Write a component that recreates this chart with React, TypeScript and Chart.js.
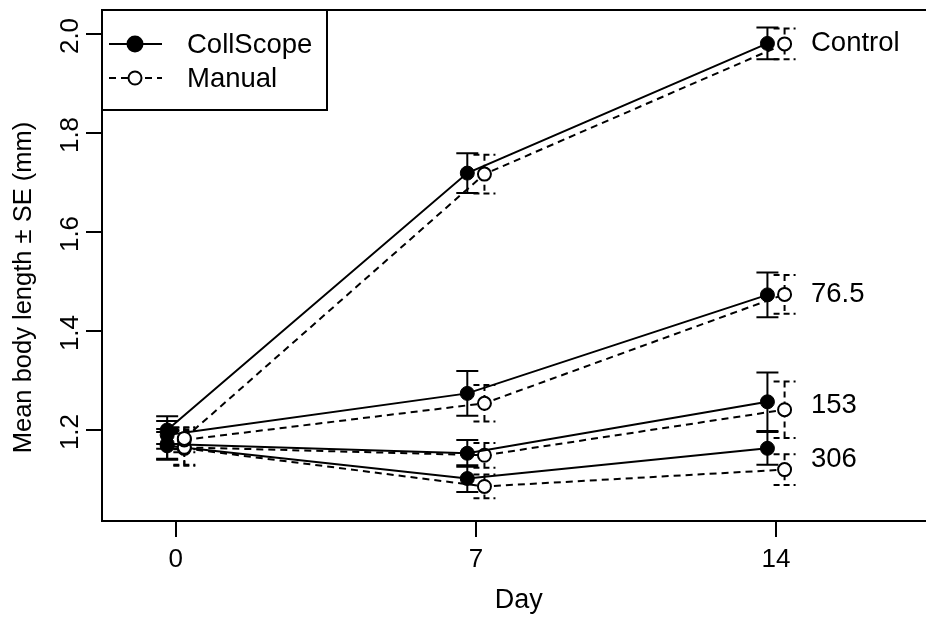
import React, { useEffect, useRef } from 'react';
import { Chart, registerables } from 'chart.js';

Chart.register(...registerables);

// ---- data ----
const days = [0, 7, 14];
const groupNames = ['Control', '76.5', '153', '306'];

// rows: Control, 76.5, 153, 306 ; columns: day 0, 7, 14
const collScopeMean = [
  [1.200, 1.719, 1.981],
  [1.190, 1.274, 1.473],
  [1.172, 1.153, 1.257],
  [1.168, 1.102, 1.163],
];
const collScopeSE = [
  [0.028, 0.040, 0.032],
  [0.028, 0.045, 0.045],
  [0.030, 0.027, 0.059],
  [0.028, 0.027, 0.033],
];
const manualMean = [
  [1.183, 1.717, 1.980],
  [1.180, 1.254, 1.474],
  [1.165, 1.149, 1.241],
  [1.163, 1.086, 1.120],
];
const manualSE = [
  [0.022, 0.039, 0.031],
  [0.025, 0.037, 0.039],
  [0.035, 0.025, 0.057],
  [0.035, 0.024, 0.031],
];
const xTicks = [0, 7, 14];
const yTicks = [1.2, 1.4, 1.6, 1.8, 2.0];
const legendLabels = ['CollScope', 'Manual'];
const xTitle = 'Day';
const yTitle = 'Mean body length \u00b1 SE (mm)';

// ---- style ----
const FONT = '"Liberation Sans", Arial, Helvetica, sans-serif';
const FS_TICK = 26;
const FS_TEXT = 27.5;
const FS_XTITLE = 27;
const FS_YTITLE = 25.5;
const DASH = [7, 5];
const METHOD_OFFSET = 0.2;
const CAP = 11;

export default function App() {
  const ref = useRef<HTMLCanvasElement>(null);

  useEffect(() => {
    const canvas = ref.current!;
    const datasets: any[] = [];
    groupNames.forEach((g, gi) => {
      datasets.push({
        label: 'CollScope ' + g,
        method: 'CollScope',
        se: collScopeSE[gi],
        data: days.map((d, i) => ({ x: d - METHOD_OFFSET, y: collScopeMean[gi][i] })),
        showLine: true,
        borderColor: '#000',
        borderWidth: 2,
        pointRadius: 7,
        pointBackgroundColor: '#000',
        pointBorderColor: '#000',
        pointBorderWidth: 1,
      });
      datasets.push({
        label: 'Manual ' + g,
        method: 'Manual',
        se: manualSE[gi],
        data: days.map((d, i) => ({ x: d + METHOD_OFFSET, y: manualMean[gi][i] })),
        showLine: true,
        borderColor: '#000',
        borderWidth: 2,
        borderDash: DASH,
        pointRadius: 6.5,
        pointBackgroundColor: '#fff',
        pointBorderColor: '#000',
        pointBorderWidth: 2,
      });
    });

    const errorBars = {
      id: 'errorBars',
      beforeDatasetsDraw(chart: any) {
        const { ctx, scales } = chart;
        const xs = scales.x, ys = scales.y;
        chart.data.datasets.forEach((ds: any) => {
          ctx.save();
          ctx.strokeStyle = '#000';
          ctx.lineWidth = 2;
          ctx.setLineDash(ds.method === 'Manual' ? [6, 4] : []);
          ds.data.forEach((p: any, j: number) => {
            const px = xs.getPixelForValue(p.x);
            const top = ys.getPixelForValue(p.y + ds.se[j]);
            const bot = ys.getPixelForValue(p.y - ds.se[j]);
            ctx.beginPath();
            ctx.moveTo(px, top); ctx.lineTo(px, bot);
            ctx.moveTo(px - CAP, top); ctx.lineTo(px + CAP, top);
            ctx.moveTo(px - CAP, bot); ctx.lineTo(px + CAP, bot);
            ctx.stroke();
          });
          ctx.restore();
        });
      },
    };

    const decorations = {
      id: 'decorations',
      afterDraw(chart: any) {
        const { ctx, chartArea: a, scales } = chart;
        const xs = scales.x, ys = scales.y;
        ctx.save();
        // frame
        ctx.strokeStyle = '#000';
        ctx.lineWidth = 2;
        ctx.setLineDash([]);
        ctx.strokeRect(a.left, a.top, a.right - a.left, a.bottom - a.top);

        ctx.fillStyle = '#000';
        // y tick labels (rotated, R style)
        ctx.font = `${FS_TICK}px ${FONT}`;
        yTicks.forEach((v) => {
          const py = ys.getPixelForValue(v);
          ctx.save();
          ctx.translate(a.left - 24, py + 2);
          ctx.rotate(-Math.PI / 2);
          ctx.textAlign = 'center';
          ctx.textBaseline = 'alphabetic';
          ctx.fillText(v.toFixed(1), 0, 0);
          ctx.restore();
        });
        // y title
        ctx.font = `${FS_YTITLE}px ${FONT}`;
        ctx.save();
        ctx.translate(a.left - 71, (a.top + a.bottom) / 2 + 22);
        ctx.rotate(-Math.PI / 2);
        ctx.textAlign = 'center';
        ctx.textBaseline = 'alphabetic';
        ctx.fillText(yTitle, 0, 0);
        ctx.restore();

        // group labels at right
        ctx.font = `${FS_TEXT}px ${FONT}`;
        ctx.textAlign = 'left';
        ctx.textBaseline = 'middle';
        const lastX = xs.getPixelForValue(days[days.length - 1]);
        groupNames.forEach((g, gi) => {
          const last = days.length - 1;
          const v = (collScopeMean[gi][last] + manualMean[gi][last]) / 2;
          ctx.fillText(g, lastX + 35, ys.getPixelForValue(v));
        });

        // legend box
        const lx = a.left, ly = a.top, lw = 225, lh = 100;
        ctx.fillStyle = '#fff';
        ctx.fillRect(lx, ly, lw, lh);
        ctx.strokeStyle = '#000';
        ctx.lineWidth = 2;
        ctx.strokeRect(lx, ly, lw, lh);
        const rows = [ly + 34, ly + 68];
        legendLabels.forEach((lab, i) => {
          const ry = rows[i];
          ctx.beginPath();
          ctx.setLineDash(i === 1 ? DASH : []);
          ctx.moveTo(lx + 7, ry);
          ctx.lineTo(lx + 60, ry);
          ctx.stroke();
          ctx.setLineDash([]);
          ctx.beginPath();
          ctx.arc(lx + 33, ry, i === 0 ? 7.5 : 6.5, 0, Math.PI * 2);
          ctx.fillStyle = i === 0 ? '#000' : '#fff';
          ctx.fill();
          ctx.stroke();
          ctx.fillStyle = '#000';
          ctx.textAlign = 'left';
          ctx.textBaseline = 'middle';
          ctx.fillText(lab, lx + 85, ry + 1);
        });
        ctx.restore();
      },
    };

    const chart = new Chart(canvas, {
      type: 'scatter',
      data: { datasets },
      options: {
        animation: false,
        responsive: false,
        events: [],
        layout: { padding: { left: 0, right: 9.5, top: 10, bottom: 0 } },
        plugins: { legend: { display: false }, tooltip: { enabled: false } },
        scales: {
          x: {
            type: 'linear',
            min: -1.72,
            max: 17.72,
            afterBuildTicks: (s: any) => { s.ticks = xTicks.map((v) => ({ value: v })); },
            afterFit: (s: any) => { s.height = 96; },
            ticks: {
              color: '#000',
              font: { family: FONT, size: FS_TICK },
              padding: 7,
              maxRotation: 0,
              callback: (v: any) => String(v),
            },
            grid: { drawOnChartArea: false, drawTicks: true, tickLength: 16, color: '#000', lineWidth: 2 },
            border: { display: true, color: '#000', width: 2 },
            title: { display: true, text: xTitle, color: '#000', font: { family: FONT, size: FS_XTITLE }, padding: { top: 0, bottom: 0 } },
          },
          y: {
            type: 'linear',
            min: 1.0162,
            max: 2.0485,
            afterBuildTicks: (s: any) => { s.ticks = yTicks.map((v) => ({ value: v })); },
            afterFit: (s: any) => { s.width = 102; },
            ticks: { display: false },
            grid: { drawOnChartArea: false, drawTicks: true, tickLength: 16, color: '#000', lineWidth: 2 },
            border: { display: true, color: '#000', width: 2 },
          },
        },
      },
      plugins: [errorBars, decorations],
    } as any);

    return () => chart.destroy();
  }, []);

  return (
    <div style={{ position: 'fixed', left: 0, top: 0, width: 926, height: 617, overflow: 'hidden', background: '#fff' }}>
      <canvas ref={ref} width={945} height={617} style={{ display: 'block', width: 945, height: 617 }} />
    </div>
  );
}
